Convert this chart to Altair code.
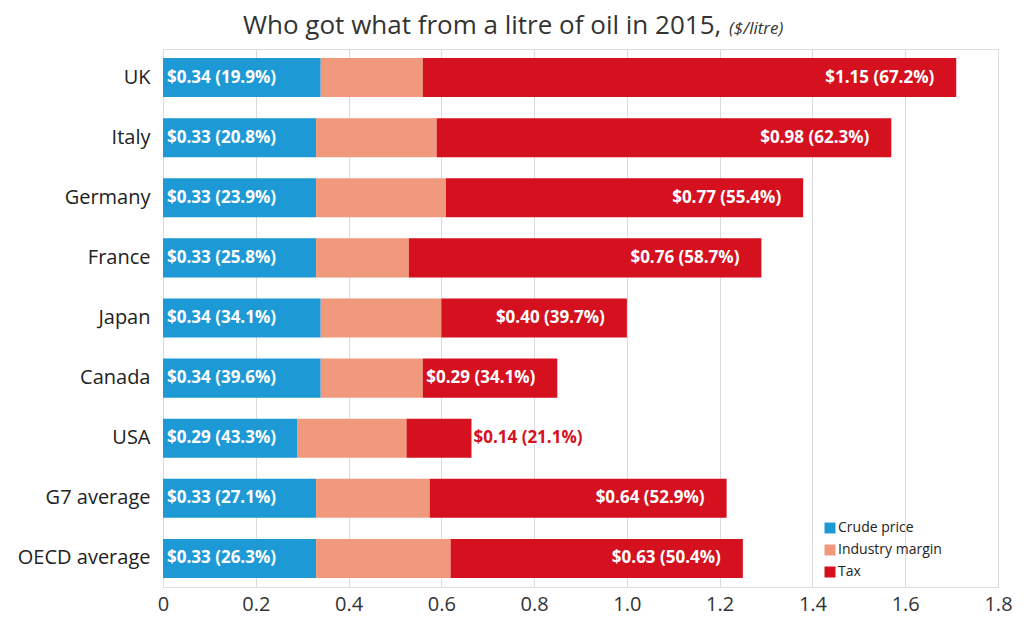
import altair as alt
import pandas as pd

countries = ["UK", "Italy", "Germany", "France", "Japan", "Canada", "USA", "G7 average", "OECD average"]
crude = [0.34, 0.33, 0.33, 0.33, 0.34, 0.34, 0.29, 0.33, 0.33]
margin = [0.22, 0.26, 0.28, 0.20, 0.26, 0.22, 0.235, 0.245, 0.29]
tax = [1.15, 0.98, 0.77, 0.76, 0.40, 0.29, 0.14, 0.64, 0.63]
crude_labels = ["$0.34 (19.9%)", "$0.33 (20.8%)", "$0.33  (23.9%)", "$0.33  (25.8%)",
                "$0.34  (34.1%)", "$0.34 (39.6%)", "$0.29  (43.3%)", "$0.33 (27.1%)",
                "$0.33  (26.3%)"]
tax_labels = ["$1.15 (67.2%)", "$0.98 (62.3%)", "$0.77 (55.4%)", "$0.76 (58.7%)",
              "$0.40  (39.7%)", "$0.29 (34.1%)", "$0.14 (21.1%)", "$0.64 (52.9%)",
              "$0.63 (50.4%)"]
components = ["Crude price", "Industry margin", "Tax"]
colors = ["#1D9AD6", "#F0997D", "#D51120"]
x_ticks = [0, 0.2, 0.4, 0.6, 0.8, 1.0, 1.2, 1.4, 1.6, 1.8]

FONT = "Open Sans"

rows = []
for i, c in enumerate(countries):
    for k, (comp, vals) in enumerate(zip(components, [crude, margin, tax])):
        rows.append({"country": c, "component": comp, "value": vals[i], "order": k})
long_df = pd.DataFrame(rows)

lab_df = pd.DataFrame({
    "country": countries,
    "zero": [0.0] * len(countries),
    "total": [a + b + t for a, b, t in zip(crude, margin, tax)],
    "tax": tax,
    "crude_label": crude_labels,
    "tax_label": tax_labels,
})

y_enc = alt.Y("country:N", sort=countries, title=None,
              scale=alt.Scale(paddingInner=0.351, paddingOuter=0.15),
              axis=alt.Axis(labelFontSize=20, labelColor="#222222", labelFont=FONT,
                            ticks=False, domain=False, labelPadding=13, grid=False))

bars = alt.Chart(long_df).mark_bar().encode(
    x=alt.X("value:Q", stack="zero", title=None,
            scale=alt.Scale(domain=[0, 1.8], nice=False),
            axis=alt.Axis(values=x_ticks,
                          labelExpr="datum.value == 0 ? '0' : format(datum.value, '.1f')",
                          labelFontSize=20, labelFlush=False,
                          labelColor="#333333", labelFont=FONT, ticks=False,
                          domain=False, labelPadding=7, grid=True,
                          gridColor="#dadada", gridWidth=1)),
    y=y_enc,
    color=alt.Color("component:N", sort=components,
                    scale=alt.Scale(domain=components, range=colors),
                    legend=alt.Legend(title=None, orient="none", legendX=660, legendY=472,
                                      symbolType="square", symbolSize=121,
                                      symbolStrokeWidth=0, labelFontSize=14,
                                      labelFont=FONT, labelColor="#222222",
                                      rowPadding=8, padding=0, labelOffset=1)),
    order=alt.Order("order:Q"),
)

crude_text = alt.Chart(lab_df).mark_text(
    align="left", baseline="middle", dx=4, font=FONT, fontSize=17,
    fontWeight="bold", color="white"
).encode(x="zero:Q", y=alt.Y("country:N", sort=countries), text="crude_label:N")

tax_in = alt.Chart(lab_df).transform_filter("datum.tax >= 0.2").mark_text(
    align="right", baseline="middle", dx=-22, font=FONT, fontSize=17,
    fontWeight="bold", color="white"
).encode(x="total:Q", y=alt.Y("country:N", sort=countries), text="tax_label:N")

tax_out = alt.Chart(lab_df).transform_filter("datum.tax < 0.2").mark_text(
    align="left", baseline="middle", dx=2, font=FONT, fontSize=17,
    fontWeight="bold", color="#D51120"
).encode(x="total:Q", y=alt.Y("country:N", sort=countries), text="tax_label:N")

title_df = pd.DataFrame({"t": ["Who got what from a litre of oil in 2015,"], "s": ["($/litre)"]})
title_main = alt.Chart(title_df).mark_text(
    align="left", baseline="alphabetic", font=FONT, fontSize=26, color="#333333"
).encode(x=alt.value(80), y=alt.value(-15), text="t:N")
title_sub = alt.Chart(title_df).mark_text(
    align="left", baseline="alphabetic", font=FONT, fontSize=17, fontStyle="italic",
    color="#333333"
).encode(x=alt.value(566), y=alt.value(-15), text="s:N")

chart = alt.layer(bars, crude_text, tax_in, tax_out, title_main, title_sub).properties(
    width=835, height=538,
    autosize=alt.AutoSizeParams(type="none"),
    padding={"left": 155, "top": 41, "right": 17, "bottom": 32},
).configure_view(stroke=None).configure(background="white")

chart.save("out.html", embed_options={"renderer": "svg", "actions": False})
